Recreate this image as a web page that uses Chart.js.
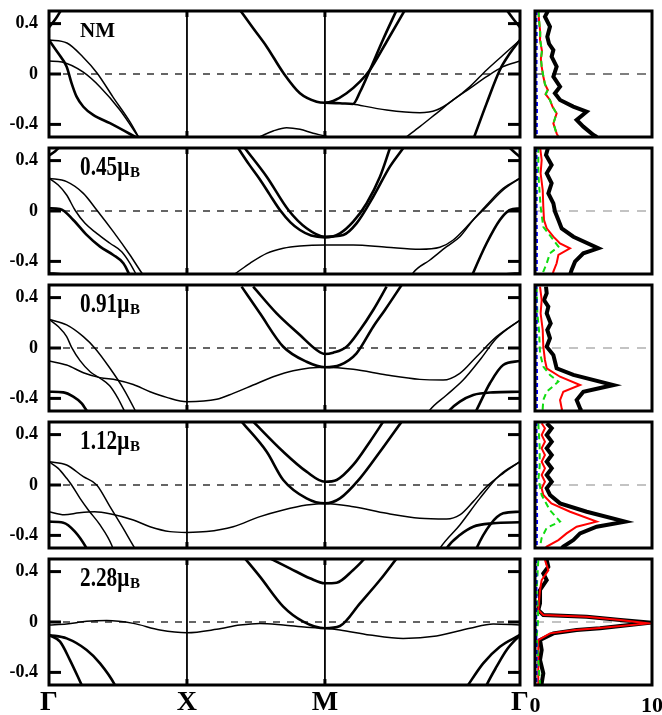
<!DOCTYPE html>
<html><head><meta charset="utf-8">
<script src="https://cdn.jsdelivr.net/npm/chart.js@4.4.1/dist/chart.umd.min.js"></script>
<style>
html,body{margin:0;padding:0;background:#fff;width:662px;height:715px;overflow:hidden;position:relative;}
canvas{position:absolute;}
.lab{position:absolute;font-family:"Liberation Serif","Times New Roman",serif;font-weight:bold;color:#000;line-height:1;white-space:nowrap;}
</style></head><body>
<script>
// ---------- axes ----------
const kPoints = [0, 1, 2, 3.414];
const kLabels = ['Γ', 'X', 'M', 'Γ'];
const yTicks = [-0.4, 0, 0.4];
const eRange = [-0.5, 0.5];
const dosTicks = [0, 10];
const dosRange = [0, 10];
const panelLabels = ['NM', '0.45', '0.91', '1.12', '2.28'];

// ---------- bands: each line is a list of [k, E(eV)] ----------
const bandsNM = [
  [[0,0.37],[0.05,0.44],[0.095,0.52]],
  [[3.31,0.52],[3.36,0.445],[3.414,0.37]],
  [[0,0.27],[0.13,0.246],[0.246,0.135],[0.348,0.008],[0.464,-0.183],[0.587,-0.38],[0.66,-0.52]],
  [[0,0.27],[0.067,0.164],[0.128,0.058],[0.164,-0.074],[0.2,-0.18],[0.249,-0.26],[0.32,-0.325],[0.442,-0.39],[0.66,-0.52]],
  [[0,0.103],[0.094,0.095],[0.246,0.016],[0.37,-0.103],[0.514,-0.286],[0.66,-0.52]],
  [[1.384,0.508],[1.48,0.363],[1.578,0.217],[1.698,0.01],[1.819,-0.153],[1.94,-0.22],[2.0,-0.228],[2.06,-0.214],[2.157,-0.153],[2.254,-0.061],[2.326,0.032],[2.447,0.256],[2.58,0.508]],
  [[2.0,-0.228],[2.109,-0.232],[2.203,-0.238],[2.254,-0.143],[2.326,0.032],[2.42,0.27],[2.52,0.508]],
  [[2.203,-0.238],[2.447,-0.286],[2.688,-0.307],[2.809,-0.286],[2.93,-0.206],[3.051,-0.1],[3.172,0.032],[3.292,0.151],[3.414,0.27]],
  [[2.592,-0.498],[2.688,-0.418],[2.809,-0.312],[2.93,-0.206],[3.051,-0.114],[3.172,-0.021],[3.292,0.058],[3.414,0.103]],
  [[3.075,-0.52],[3.172,-0.233],[3.268,0.032],[3.341,0.164],[3.414,0.27]],
  [[1.45,-0.53],[1.529,-0.497],[1.625,-0.452],[1.722,-0.426],[1.819,-0.439],[1.915,-0.471],[2.0,-0.492],[2.08,-0.52]]
];
const bands045 = [
  [[0,0.44],[0.045,0.475],[0.09,0.52]],
  [[3.32,0.52],[3.37,0.47],[3.414,0.43]],
  [[0,0.26],[0.128,0.233],[0.249,0.14],[0.346,0.008],[0.466,-0.164],[0.587,-0.349],[0.683,-0.508],[0.7,-0.53]],
  [[0,0.26],[0.067,0.206],[0.128,0.127],[0.188,0.008],[0.261,-0.098],[0.346,-0.177],[0.442,-0.256],[0.527,-0.323],[0.587,-0.415],[0.64,-0.52]],
  [[0,0.021],[0.08,0.016],[0.176,-0.071],[0.273,-0.19],[0.37,-0.283],[0.466,-0.349],[0.539,-0.415],[0.59,-0.52]],
  [[0,-0.49],[0.1,-0.5],[0.2,-0.53]],
  [[1.372,0.498],[1.45,0.37],[1.529,0.25],[1.6,0.13],[1.674,0.008],[1.75,-0.09],[1.819,-0.151],[1.9,-0.195],[2.0,-0.209],[2.109,-0.177],[2.205,-0.085],[2.302,0.061],[2.399,0.272],[2.471,0.498]],
  [[1.42,0.498],[1.578,0.272],[1.735,0.008],[1.867,-0.137],[2.0,-0.204],[2.133,-0.19],[2.229,-0.098],[2.35,0.113],[2.471,0.352],[2.567,0.498]],
  [[1.3,-0.53],[1.335,-0.508],[1.456,-0.415],[1.578,-0.336],[1.698,-0.296],[1.819,-0.278],[2.0,-0.27],[2.205,-0.27],[2.447,-0.288],[2.688,-0.304],[2.833,-0.288],[2.93,-0.23],[3.051,-0.098],[3.172,0.048],[3.292,0.18],[3.414,0.26]],
  [[2.62,-0.53],[2.64,-0.49],[2.761,-0.389],[2.882,-0.283],[2.978,-0.204],[3.075,-0.071],[3.172,0.034],[3.292,0.167],[3.414,0.26]],
  [[3.06,-0.53],[3.075,-0.49],[3.172,-0.256],[3.268,-0.071],[3.341,0.008],[3.414,0.021]],
  [[3.2,-0.53],[3.3,-0.5],[3.414,-0.49]]
];
const bands091 = [
  [[0,0.228],[0.128,0.183],[0.249,0.09],[0.333,-0.002],[0.442,-0.161],[0.538,-0.32],[0.623,-0.492],[0.64,-0.53]],
  [[0,0.228],[0.067,0.17],[0.128,0.09],[0.164,0.005],[0.225,-0.1],[0.3,-0.19],[0.37,-0.24],[0.44,-0.3],[0.5,-0.4],[0.56,-0.53]],
  [[0,-0.103],[0.128,-0.135],[0.249,-0.196],[0.37,-0.235],[0.49,-0.254],[0.611,-0.29],[0.732,-0.347],[0.853,-0.392],[1.0,-0.426],[1.215,-0.407],[1.335,-0.36],[1.48,-0.294],[1.625,-0.228],[1.77,-0.18],[2.0,-0.153],[2.205,-0.169],[2.447,-0.214],[2.688,-0.249],[2.857,-0.254],[2.978,-0.201],[3.099,-0.069],[3.244,0.09],[3.414,0.222]],
  [[0,-0.347],[0.104,-0.352],[0.176,-0.386],[0.237,-0.439],[0.285,-0.518]],
  [[0,-0.5],[0.1,-0.51],[0.15,-0.53]],
  [[1.396,0.487],[1.529,0.275],[1.698,0.01],[1.867,-0.109],[2.0,-0.153],[2.109,-0.135],[2.229,-0.042],[2.35,0.169],[2.435,0.302],[2.556,0.5]],
  [[1.48,0.487],[1.65,0.275],[1.819,0.103],[1.94,-0.016],[2.0,-0.048],[2.06,-0.037],[2.157,0.01],[2.254,0.143],[2.35,0.302],[2.447,0.487]],
  [[2.74,-0.53],[2.761,-0.492],[2.882,-0.373],[3.002,-0.254],[3.123,-0.095],[3.244,0.077],[3.414,0.222]],
  [[2.88,-0.53],[2.906,-0.492],[2.978,-0.426],[3.075,-0.373],[3.22,-0.352],[3.414,-0.347]],
  [[3.08,-0.53],[3.099,-0.492],[3.196,-0.28],[3.292,-0.135],[3.414,-0.103]],
  [[3.25,-0.53],[3.35,-0.51],[3.414,-0.5]]
];
const bands112 = [
  [[0,0.185],[0.128,0.159],[0.249,0.066],[0.346,0],[0.442,-0.172],[0.538,-0.344],[0.623,-0.503],[0.64,-0.53]],
  [[0,0.185],[0.067,0.132],[0.128,0.053],[0.164,0],[0.225,-0.106],[0.285,-0.198],[0.37,-0.317],[0.454,-0.476],[0.47,-0.53]],
  [[0,-0.212],[0.11,-0.236],[0.22,-0.22],[0.33,-0.212],[0.45,-0.23],[0.611,-0.278],[0.732,-0.331],[0.877,-0.37],[1.0,-0.376],[1.143,-0.37],[1.335,-0.331],[1.529,-0.251],[1.698,-0.198],[1.867,-0.159],[2.0,-0.146],[2.205,-0.172],[2.447,-0.225],[2.688,-0.264],[2.882,-0.27],[2.978,-0.238],[3.075,-0.132],[3.172,-0.013],[3.292,0.093],[3.414,0.185]],
  [[0,-0.291],[0.104,-0.299],[0.188,-0.37],[0.273,-0.503],[0.285,-0.53]],
  [[1.396,0.503],[1.578,0.264],[1.698,0.04],[1.867,-0.106],[2.0,-0.146],[2.109,-0.106],[2.254,0.053],[2.399,0.264],[2.556,0.503]],
  [[1.48,0.503],[1.698,0.264],[1.867,0.106],[2.0,0.026],[2.085,0.04],[2.205,0.159],[2.326,0.344],[2.423,0.503]],
  [[2.82,-0.53],[2.833,-0.503],[2.978,-0.317],[3.123,-0.106],[3.268,0.079],[3.414,0.185]],
  [[2.87,-0.53],[2.882,-0.503],[2.978,-0.397],[3.075,-0.331],[3.22,-0.304],[3.414,-0.296]],
  [[3.09,-0.53],[3.099,-0.503],[3.196,-0.317],[3.292,-0.225],[3.414,-0.212]]
];
const bands228 = [
  [[0,-0.024],[0.128,-0.016],[0.273,0.005],[0.418,0.011],[0.611,-0.011],[0.804,-0.063],[1.0,-0.085],[1.215,-0.058],[1.384,-0.024],[1.529,-0.011],[1.698,-0.024],[1.867,-0.042],[2.0,-0.05],[2.109,-0.063],[2.326,-0.103],[2.567,-0.13],[2.809,-0.111],[3.051,-0.05],[3.22,-0.016],[3.414,-0.024]],
  [[0,-0.103],[0.128,-0.13],[0.273,-0.222],[0.37,-0.328],[0.478,-0.5],[0.49,-0.53]],
  [[0,-0.103],[0.08,-0.156],[0.152,-0.302],[0.237,-0.5],[0.25,-0.53]],
  [[1.42,0.505],[1.529,0.36],[1.698,0.122],[1.843,0.003],[2.0,-0.05],[2.109,-0.032],[2.254,0.148],[2.399,0.333],[2.52,0.505]],
  [[1.601,0.505],[1.746,0.426],[1.891,0.347],[2.0,0.307],[2.085,0.312],[2.205,0.413],[2.29,0.505]],
  [[3.02,-0.53],[3.038,-0.5],[3.147,-0.328],[3.268,-0.196],[3.414,-0.103]],
  [[3.16,-0.53],[3.172,-0.5],[3.244,-0.355],[3.317,-0.222],[3.414,-0.103]]
];

// ---------- DOS: each curve is a list of [DOS, E(eV)] ----------
const dosTotNM = [[1.1,0.5],[0.85,0.455],[1.28,0.376],[1.05,0.296],[1.2,0.24],[1.57,0.19],[1.42,0.138],[1.85,0.058],[1.57,-0.021],[2.14,-0.1],[1.7,-0.153],[2.14,-0.206],[3.27,-0.259],[4.41,-0.299],[3.56,-0.365],[4.13,-0.418],[5.0,-0.484],[5.3,-0.5]];
const dosRedNM = [[0.28,0.5],[0.35,0.42],[0.45,0.33],[0.43,0.27],[0.6,0.18],[0.5,0.12],[0.57,0.058],[0.71,-0.02],[0.85,-0.08],[1.1,-0.127],[0.9,-0.16],[1.28,-0.206],[1.5,-0.26],[1.85,-0.312],[1.57,-0.392],[1.85,-0.471],[2.0,-0.5]];
const dosGreenNM = [[0.3,0.5],[0.36,0.42],[0.44,0.33],[0.45,0.27],[0.58,0.18],[0.52,0.12],[0.57,0.058],[0.72,-0.02],[0.85,-0.08],[1.08,-0.127],[0.92,-0.16],[1.27,-0.206],[1.5,-0.26],[1.83,-0.312],[1.58,-0.392],[1.83,-0.471],[1.95,-0.5]];
const dosBlueNM = [[0.12,0.5],[0.15,0.25],[0.12,0],[0.17,-0.25],[0.15,-0.5]];

const dosTot045 = [[1.14,0.51],[0.94,0.444],[1.42,0.365],[1.0,0.299],[1.42,0.22],[1.14,0.14],[1.57,0.061],[1.71,-0.005],[2.0,-0.071],[2.28,-0.138],[3.28,-0.204],[5.41,-0.296],[4.13,-0.336],[3.42,-0.402],[3.13,-0.468],[2.99,-0.508]];
const dosRed045 = [[0.43,0.51],[0.57,0.405],[0.48,0.299],[0.66,0.167],[0.71,0.034],[0.77,-0.071],[1.0,-0.138],[1.57,-0.204],[2.14,-0.257],[2.99,-0.296],[2.0,-0.349],[1.85,-0.415],[1.57,-0.481],[1.5,-0.51]];
const dosGreen045 = [[0.28,0.51],[0.28,0.299],[0.48,0.034],[0.71,-0.125],[1.57,-0.23],[2.0,-0.283],[1.28,-0.336],[1.0,-0.415],[0.71,-0.481],[0.7,-0.51]];
const dosBlue045 = [[0.12,0.5],[0.16,0.25],[0.13,0],[0.17,-0.25],[0.15,-0.5]];

const dosTot091 = [[0.94,0.487],[1.0,0.434],[0.77,0.381],[1.14,0.328],[1.0,0.275],[1.34,0.196],[1.05,0.143],[1.28,0.077],[1.0,0.01],[1.57,-0.056],[1.85,-0.161],[3.28,-0.214],[6.7,-0.294],[4.13,-0.347],[3.56,-0.413],[3.85,-0.479],[3.9,-0.5]];
const dosRed091 = [[0.43,0.487],[0.57,0.381],[0.48,0.275],[0.66,0.143],[0.71,0.01],[0.85,-0.095],[1.0,-0.161],[2.14,-0.228],[3.85,-0.294],[2.42,-0.347],[2.14,-0.413],[2.28,-0.479],[2.3,-0.5]];
const dosGreen091 = [[0.14,0.487],[0.2,0.275],[0.34,0.143],[0.43,-0.042],[0.71,-0.148],[1.28,-0.214],[2.0,-0.267],[1.0,-0.347],[0.71,-0.413],[0.66,-0.479],[0.66,-0.5]];
const dosBlue091 = [[0.12,0.5],[0.15,0.25],[0.13,0],[0.18,-0.25],[0.16,-0.5]];

const dosTot112 = [[1.0,0.49],[1.43,0.45],[1.0,0.397],[1.43,0.344],[1.0,0.291],[1.43,0.238],[1.0,0.185],[1.43,0.132],[1.0,0.079],[1.43,0.026],[1.0,-0.026],[1.28,-0.079],[2.14,-0.146],[4.42,-0.212],[7.7,-0.291],[5.27,-0.331],[3.85,-0.384],[3.28,-0.437],[2.42,-0.489],[2.3,-0.5]];
const dosRed112 = [[0.57,0.49],[0.85,0.45],[0.57,0.397],[0.85,0.344],[0.57,0.291],[0.85,0.238],[0.57,0.185],[0.85,0.132],[0.57,0.079],[0.85,0.026],[0.57,-0.026],[0.71,-0.079],[1.4,-0.146],[3.0,-0.212],[5.27,-0.291],[3.56,-0.331],[2.7,-0.384],[2.0,-0.437],[1.0,-0.489],[0.9,-0.5]];
const dosGreen112 = [[0.28,0.49],[0.4,0.3],[0.4,0.15],[0.3,0.05],[0.57,-0.08],[1.28,-0.2],[2.14,-0.29],[1.0,-0.34],[0.57,-0.42],[0.43,-0.49],[0.43,-0.5]];
const dosBlue112 = [[0.12,0.5],[0.16,0.25],[0.13,0],[0.18,-0.25],[0.15,-0.5]];

const dosTot228 = [[1.0,0.492],[1.14,0.439],[0.71,0.386],[1.0,0.333],[0.43,0.254],[0.43,0.148],[0.28,0.095],[0.71,0.056],[4.42,0.042],[7.3,0.016],[9.8,-0.005],[5.56,-0.05],[3.56,-0.063],[1.57,-0.09],[0.43,-0.143],[0.57,-0.222],[0.43,-0.302],[0.71,-0.407],[0.57,-0.487],[0.6,-0.5]];
const dosRed228 = [[0.85,0.492],[1.14,0.41],[0.57,0.333],[0.43,0.254],[0.28,0.095],[0.71,0.056],[4.42,0.042],[7.3,0.016],[9.7,-0.011],[5.3,-0.05],[3.4,-0.063],[1.28,-0.09],[0.28,-0.143],[0.28,-0.3],[0.28,-0.5]];
const dosGreen228 = [[0.28,0.49],[0.14,0.25],[0.28,0.03],[0.14,-0.12],[0.28,-0.3],[0.43,-0.5]];
const dosBlue228 = [[0.1,0.5],[0.13,0.25],[0.1,0],[0.14,-0.25],[0.12,-0.5]];

// ---------- assembly (styles/layout) ----------
const panels = [
  {bands: bandsNM, thick: [0,1,3,5,6,9], dos: [dosBlueNM, dosGreenNM, dosRedNM, dosTotNM], zeroCol: '#000'},
  {bands: bands045, thick: [0,1,4,6,7,10], dos: [dosBlue045, dosGreen045, dosRed045, dosTot045], zeroCol: '#888'},
  {bands: bands091, thick: [3,4,5,6,8,9,10], dos: [dosBlue091, dosGreen091, dosRed091, dosTot091], zeroCol: '#888'},
  {bands: bands112, thick: [3,4,5,7,8], dos: [dosBlue112, dosGreen112, dosRed112, dosTot112], zeroCol: '#888'},
  {bands: bands228, thick: [1,2,3,4,5,6], dos: [dosBlue228, dosGreen228, dosRed228, dosTot228], zeroCol: '#888'}
];
const areaTops = [11, 148, 285, 422, 559];
const areaH = 126;
const serif = "'Liberation Serif','Times New Roman',serif";

const framePlugin = {
  id: 'frame',
  afterDatasetsDraw(chart, args, opts) {
    const {ctx, chartArea: a} = chart;
    ctx.save();
    ctx.strokeStyle = '#000';
    ctx.lineWidth = 3;
    ctx.strokeRect(a.left, a.top, a.right - a.left, a.bottom - a.top);
    const ln = (x1,y1,x2,y2) => { ctx.beginPath(); ctx.moveTo(x1,y1); ctx.lineTo(x2,y2); ctx.stroke(); };
    if (opts.yTicks) {
      const ys = chart.scales.y;
      opts.yTicks.forEach(v => { const p = ys.getPixelForValue(v); ln(a.left, p, a.left + 12, p); ln(a.right, p, a.right - 12, p); });
    }
    if (opts.xTicks) {
      const xs = chart.scales.x;
      opts.xTicks.forEach(v => { const p = xs.getPixelForValue(v); ln(p, a.top, p, a.top + 6); ln(p, a.bottom, p, a.bottom - 6); });
    }
    ctx.restore();
  }
};

function makeCanvas(left, top, w, h) {
  const c = document.createElement('canvas');
  c.width = w; c.height = h;
  c.style.left = left + 'px'; c.style.top = top + 'px';
  c.style.width = w + 'px'; c.style.height = h + 'px';
  document.body.appendChild(c);
  return c;
}
const pts = arr => arr.map(([x, y]) => ({x, y}));

panels.forEach((p, i) => {
  const last = i === panels.length - 1;
  const top = areaTops[i] - 6;
  const h = 6 + areaH + (last ? 30 : 6);
  const fitX = s => { s.height = last ? 30 : 0; s.paddingLeft = 0; s.paddingRight = 0; s.paddingTop = 0; s.paddingBottom = 0; };

  // ---- band structure ----
  const ds = [];
  p.bands.forEach((b, j) => ds.push({
    data: pts(b), borderColor: '#000', borderWidth: p.thick.includes(j) ? 2.6 : 1.5,
    cubicInterpolationMode: 'monotone', pointRadius: 0, showLine: true
  }));
  kPoints.slice(1, -1).forEach(k => ds.push({
    data: [{x: k, y: eRange[0]}, {x: k, y: eRange[1]}], borderColor: '#000', borderWidth: 1.8, pointRadius: 0, showLine: true
  }));
  ds.push({data: [{x: kPoints[0], y: 0}, {x: kPoints[kPoints.length - 1], y: 0}], borderColor: '#000',
    borderWidth: 1.2, borderDash: [7, 7], pointRadius: 0, showLine: true});

  new Chart(makeCanvas(0, top, 540, h), {
    type: 'scatter',
    data: {datasets: ds},
    options: {
      responsive: false, animation: false, events: [],
      layout: {padding: {top: 6, bottom: last ? 0 : 6, right: 20, left: 0}},
      plugins: {legend: {display: false}, tooltip: {enabled: false},
        frame: {yTicks: yTicks, xTicks: kPoints.slice(1, -1)}},
      scales: {
        x: {type: 'linear', min: kPoints[0], max: kPoints[kPoints.length - 1], display: last,
          grid: {display: false, drawTicks: false}, border: {display: false},
          afterFit: fitX,
          afterBuildTicks: s => { s.ticks = kPoints.map(v => ({value: v})); },
          ticks: {callback: (v, idx) => kLabels[idx], font: {family: serif, size: 28, weight: 'bold'},
            color: '#000', padding: 1, maxRotation: 0, autoSkip: false}},
        y: {type: 'linear', min: eRange[0], max: eRange[1],
          grid: {display: false, drawTicks: false}, border: {display: false},
          afterFit: s => { s.width = 49; s.paddingTop = 0; s.paddingBottom = 0; },
          afterBuildTicks: s => { s.ticks = yTicks.map(v => ({value: v})); },
          ticks: {callback: v => String(v), font: {family: serif, size: 18, weight: 'bold'}, color: '#000', padding: 11}}
      }
    },
    plugins: [framePlugin]
  });

  // ---- DOS ----
  const dstyles = [
    {borderColor: '#0000ff', borderWidth: 2, borderDash: [4, 3]},
    {borderColor: '#11dd11', borderWidth: 2, borderDash: [6, 4]},
    {borderColor: '#ff0000', borderWidth: 2},
    {borderColor: '#000000', borderWidth: 4}
  ];
  const dd = p.dos.map((arr, j) => Object.assign({data: pts(arr), pointRadius: 0, showLine: true, tension: 0}, dstyles[j]));
  dd.push({data: [{x: dosRange[0], y: 0}, {x: dosRange[1], y: 0}], borderColor: p.zeroCol, borderWidth: 1.2,
    borderDash: [9, 8], pointRadius: 0, showLine: true});

  new Chart(makeCanvas(515, top, 147, h), {
    type: 'scatter',
    data: {datasets: dd},
    options: {
      responsive: false, animation: false, events: [],
      layout: {padding: {top: 6, bottom: last ? 0 : 6, right: 10, left: 20}},
      plugins: {legend: {display: false}, tooltip: {enabled: false}, frame: {}},
      scales: {
        x: {type: 'linear', min: dosRange[0], max: dosRange[1], display: last,
          grid: {display: false, drawTicks: false}, border: {display: false},
          afterFit: fitX,
          afterBuildTicks: s => { s.ticks = dosTicks.map(v => ({value: v})); },
          ticks: {callback: v => String(v), font: {family: serif, size: 22, weight: 'bold'},
            color: '#000', padding: 8, maxRotation: 0, autoSkip: false}},
        y: {type: 'linear', min: eRange[0], max: eRange[1], display: false,
          afterFit: s => { s.width = 0; s.paddingTop = 0; s.paddingBottom = 0; }}
      }
    },
    plugins: [framePlugin]
  });

  // ---- panel label ----
  const t = areaTops[i];
  if (i === 0) {
    const d = document.createElement('div');
    d.className = 'lab'; d.style.fontSize = '21px';
    d.style.left = '80px'; d.style.top = (t + 9) + 'px';
    d.textContent = panelLabels[i];
    document.body.appendChild(d);
  } else {
    const d = document.createElement('div');
    d.className = 'lab'; d.style.fontSize = '28px';
    d.style.left = '80px'; d.style.top = (t + 4) + 'px';
    d.style.transform = 'scaleX(0.76)'; d.style.transformOrigin = '0 0';
    d.textContent = panelLabels[i] + 'μ';
    document.body.appendChild(d);
    const w = d.offsetWidth * 0.76;
    const b = document.createElement('div');
    b.className = 'lab'; b.style.fontSize = '15px';
    b.style.left = (80 + w + 0.5) + 'px'; b.style.top = (t + 17) + 'px';
    b.textContent = 'B';
    document.body.appendChild(b);
  }
});
</script>
</body></html>
